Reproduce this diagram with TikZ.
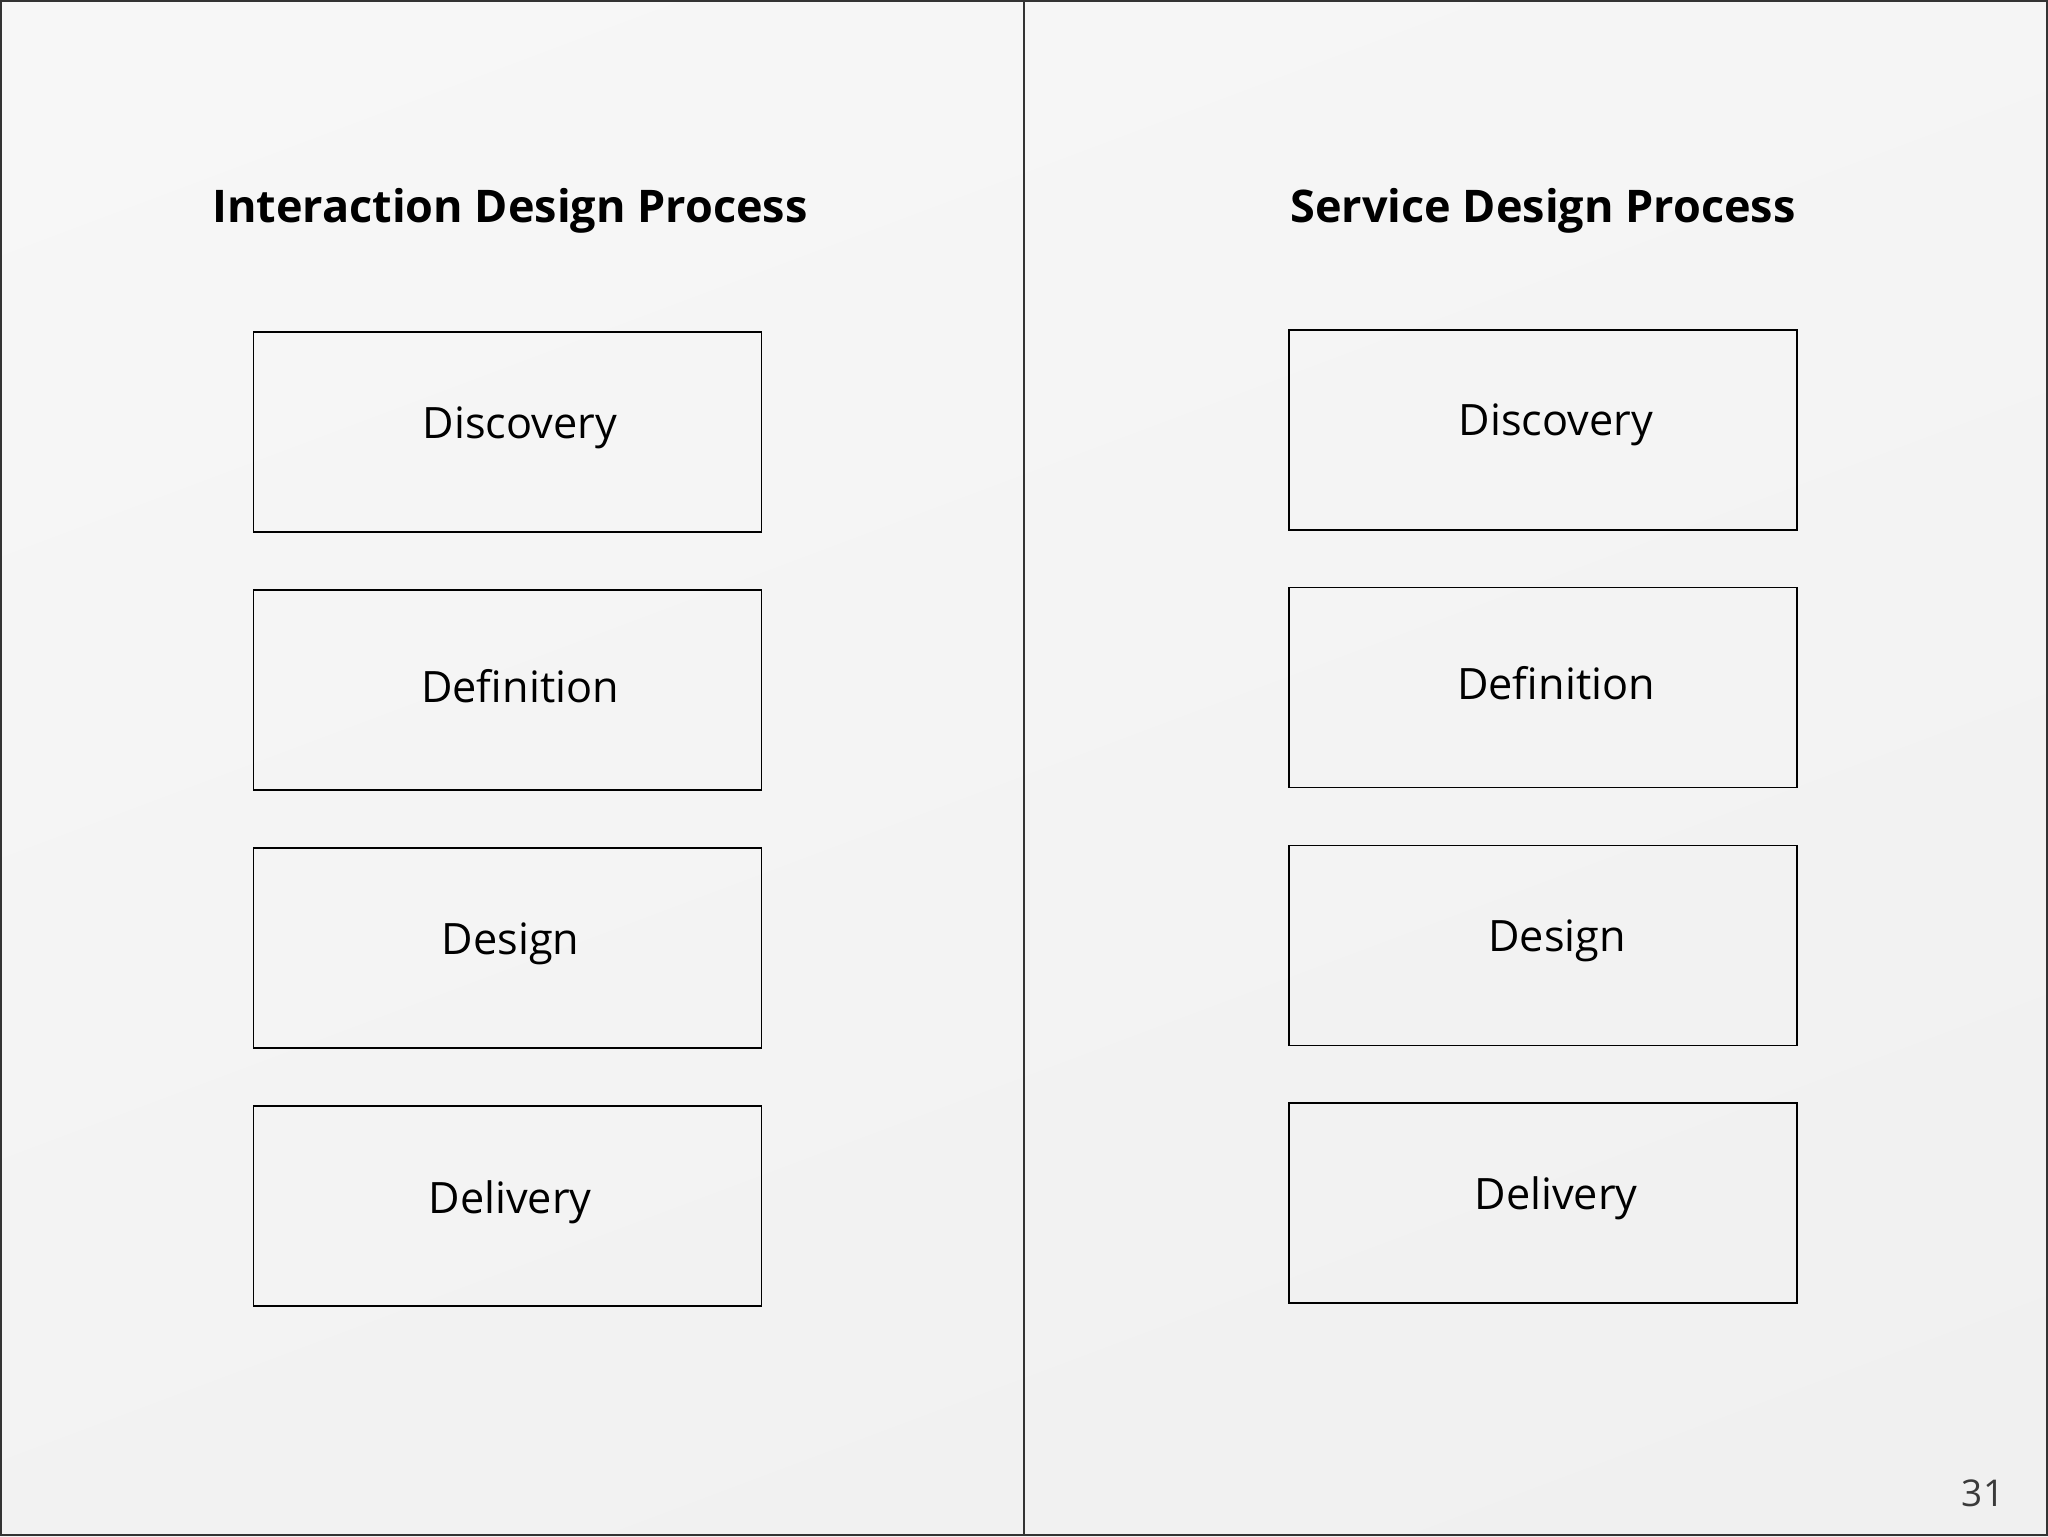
\documentclass[tikz,border=0pt]{standalone}
\usepackage{fontspec}
\setmainfont{Open Sans}
\usetikzlibrary{positioning,shadings}
\definecolor{rulegrey}{HTML}{333333}
\definecolor{numgrey}{HTML}{3A3A3A}
\tikzset{
  phasebox/.style={draw=black, line width=0.13mm, minimum width=50.8mm, minimum height=20mm, inner sep=0pt},
  phaselabel/.style={font=\fontsize{12.3}{15}\selectfont, inner sep=0pt},
  heading/.style={font=\fontsize{12.8}{16}\selectfont\bfseries, inner sep=0pt}
}
\begin{document}
\begin{tikzpicture}[x=0.1mm, y=-0.1mm]
\useasboundingbox (0,0) rectangle (2048,1536);
\shade[upper left=black!3, upper right=black!4, lower left=black!5, lower right=black!6] (0,0) rectangle (2048,1536);
\draw[rulegrey, line width=0.15mm] (0.8,0.8) rectangle (2047.2,1535.2);
\draw[rulegrey, line width=0.2mm] (1024,0) -- (1024,1536);
% titles
\node[heading] (ixd) at (510,211) {Interaction Design Process};
\node[heading] (sd) at (1543,211) {Service Design Process};
% the four phases, left and right
\foreach \name/\dl/\dr [count=\i] in {Discovery/1.25/1.3, Definition/1.25/1.3, Design/0.3/1.4, Delivery/0.25/1.3} {
  \node[phasebox] (L-\name) at (507.5, 432+\i*258-258) {};
  \node[phasebox] (R-\name) at (1543, 430+\i*257.7-257.7) {};
  \node[phaselabel] (l-\name) at ([xshift=\dl mm, yshift=0.4mm]L-\name.center) {\name};
  \node[phaselabel] (r-\name) at ([xshift=\dr mm, yshift=0.5mm]R-\name.center) {\name};
}
\node[font=\fontsize{10.5}{12}\selectfont, text=numgrey, inner sep=0pt] (page) at (1983,1493) {31};
\end{tikzpicture}
\end{document}
